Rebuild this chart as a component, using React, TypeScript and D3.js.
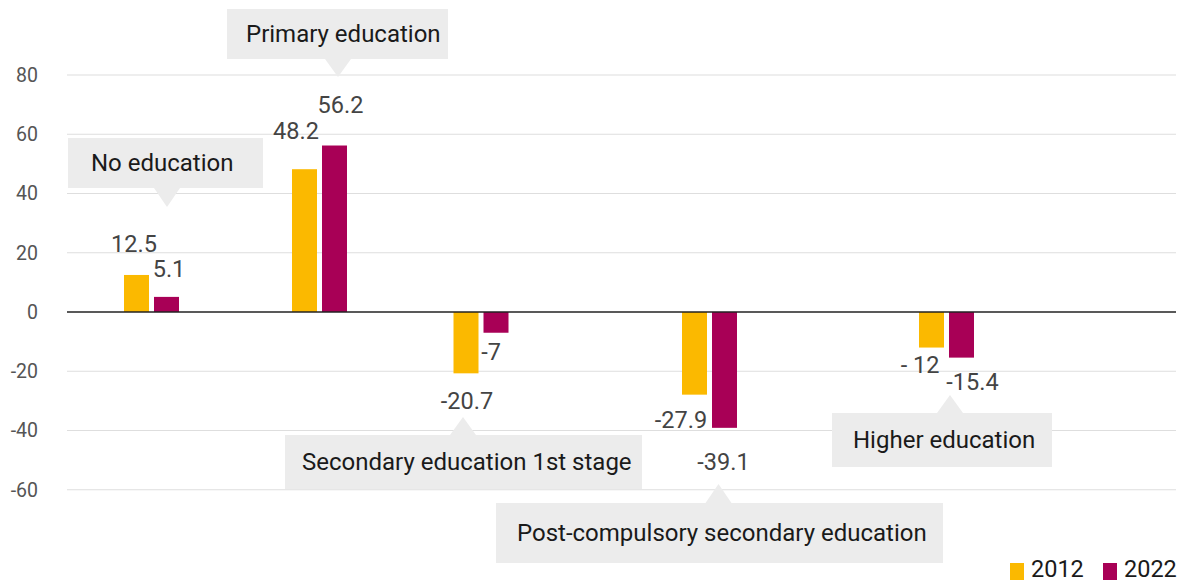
import React from "react";
import * as d3 from "d3";

const categories = [
  "No education",
  "Primary education",
  "Secondary education 1st stage",
  "Post-compulsory secondary education",
  "Higher education",
];
const series = ["2012", "2022"];
const values2012 = [12.5, 48.2, -20.7, -27.9, -12];
const values2022 = [5.1, 56.2, -7, -39.1, -15.4];
const labels2012 = ["12.5", "48.2", "-20.7", "-27.9", "- 12"];
const labels2022 = ["5.1", "56.2", "-7", "-39.1", "-15.4"];
const yTicks = [-60, -40, -20, 0, 20, 40, 60, 80];

const W = 1186;
const H = 580;
const colors: Record<string, string> = { "2012": "#FBB900", "2022": "#A80056" };
const FONT = "Roboto, 'Noto Sans', sans-serif";

// layout: group centres along x (pixels) and label nudges
const groupCenters = [151.5, 319.5, 481, 709.5, 946.5];
const labelNudge2012 = [
  [-2.5, -23],
  [-8.5, -30],
  [1, 36],
  [-13.5, 33],
  [-11.5, 25.5],
];
const labelNudge2022 = [
  [2.5, -20],
  [6, -32.5],
  [-5, 27],
  [-1, 42],
  [11, 32],
];
// callout layout: tip offset from group centre, tip y, box rect, pointer direction
const callouts = [
  { tipDx: 15.5, tipY: 207, x0: 68, x1: 263, y0: 138, y1: 188, dir: "down", padL: 23 },
  { tipDx: 18.5, tipY: 77, x0: 227, x1: 448, y0: 9, y1: 59, dir: "down", padL: 19 },
  { tipDx: -18, tipY: 417, x0: 285, x1: 642, y0: 435, y1: 489, dir: "up", padL: 17 },
  { tipDx: 9, tipY: 484, x0: 496, x1: 943, y0: 503, y1: 563, dir: "up", padL: 21 },
  { tipDx: 3.5, tipY: 395, x0: 832, x1: 1052, y0: 413, y1: 467, dir: "up", padL: 21 },
];

export default function App() {
  const y = d3.scaleLinear().domain([-60, 80]).range([489.75, 75]);
  const x = d3.scaleOrdinal<string, number>().domain(categories).range(groupCenters);
  const xs = d3
    .scaleBand<string>()
    .domain(series)
    .range([-27.5, 27.5])
    .paddingInner(1 / 6)
    .paddingOuter(0);
  const seriesValues = [values2012, values2022];
  const seriesLabels = [labels2012, labels2022];
  const nudges = [labelNudge2012, labelNudge2022];
  const gridX0 = 67;
  const gridX1 = 1176;

  return (
    <svg
      width={W}
      height={H}
      style={{ position: "absolute", left: 0, top: 0, background: "#fff" }}
      fontFamily={FONT}
    >
      {/* gridlines */}
      {yTicks.map((t) => (
        <g key={t}>
          {t !== 0 && (
            <line x1={gridX0} x2={gridX1} y1={y(t)} y2={y(t)} stroke="#dedede" strokeWidth={1.2} />
          )}
          <text
            x={38}
            y={y(t)}
            dy="0.35em"
            textAnchor="end"
            fontSize={19.5}
            fill="#555"
          >
            {t}
          </text>
        </g>
      ))}

      {/* bars */}
      {series.map((s, si) =>
        categories.map((c, ci) => {
          const v = seriesValues[si][ci];
          const bx = x(c) + (xs(s) as number);
          const y0 = y(Math.max(0, v));
          const y1 = y(Math.min(0, v));
          return (
            <rect
              key={s + c}
              x={bx}
              y={y0}
              width={xs.bandwidth()}
              height={y1 - y0}
              fill={colors[s]}
            />
          );
        })
      )}

      {/* zero line */}
      <line x1={gridX0} x2={gridX1} y1={y(0)} y2={y(0)} stroke="#222" strokeWidth={1.3} />

      {/* value labels */}
      {series.map((s, si) =>
        categories.map((c, ci) => {
          const v = seriesValues[si][ci];
          const cx = x(c) + (xs(s) as number) + xs.bandwidth() / 2 + nudges[si][ci][0];
          const ty = y(v) + nudges[si][ci][1];
          return (
            <text
              key={"l" + s + c}
              x={cx}
              y={ty}
              textAnchor="middle"
              fontSize={23.5}
              fill="#444"
            >
              {seriesLabels[si][ci]}
            </text>
          );
        })
      )}

      {/* callouts */}
      {categories.map((c, ci) => {
        const co = callouts[ci];
        const tx = x(c) + co.tipDx;
        const baseY = co.dir === "down" ? co.y1 : co.y0;
        const half = 13;
        const tri = `M${tx - half},${baseY} L${tx},${co.tipY} L${tx + half},${baseY} Z`;
        return (
          <g key={"c" + c}>
            <rect x={co.x0} y={co.y0} width={co.x1 - co.x0} height={co.y1 - co.y0} fill="#ececec" />
            <path d={tri} fill="#ececec" />
            <text
              x={co.x0 + co.padL}
              y={(co.y0 + co.y1) / 2}
              dy="0.35em"
              textAnchor="start"
              fontSize={24}
              fill="#1a1a1a"
            >
              {c}
            </text>
          </g>
        );
      })}

      {/* legend */}
      {series.map((s, i) => {
        const lx = 1010 + i * 93;
        return (
          <g key={"lg" + s}>
            <rect x={lx} y={563} width={14} height={17} fill={colors[s]} />
            <text x={lx + 21} y={577} fontSize={23.5} fill="#1a1a1a">
              {s}
            </text>
          </g>
        );
      })}
    </svg>
  );
}
